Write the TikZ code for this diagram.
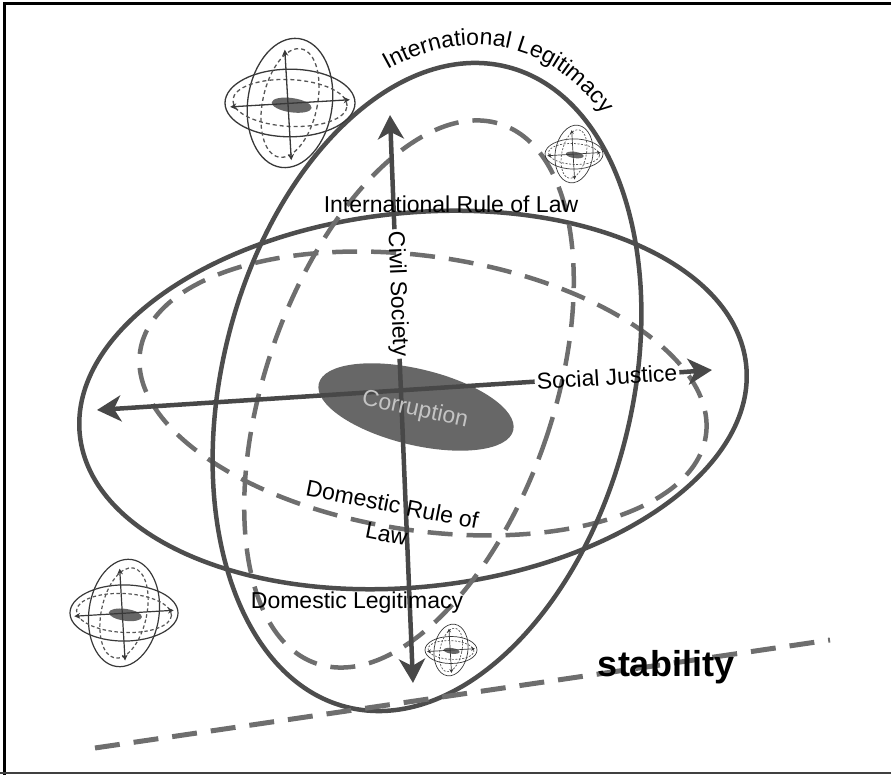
\documentclass[tikz,border=0pt]{standalone}
\usepackage{fontspec}
\setmainfont{Liberation Sans}
\usetikzlibrary{arrows.meta,decorations.text,shapes.geometric}
\definecolor{solidc}{HTML}{4D4D4D}
\definecolor{dashc}{HTML}{6E6E6E}
\definecolor{arrowc}{HTML}{484848}
\definecolor{corrc}{HTML}{676767}
\definecolor{corrt}{HTML}{C4C4C4}
\definecolor{minic}{HTML}{383838}
\definecolor{minid}{HTML}{555555}
\tikzset{
  bigtip/.tip={Stealth[length=24pt,width=26pt,inset=7pt]},
  smalltip/.tip={Stealth[length=1pt 4,width=1pt 4]},
  pics/globe/.style n args={3}{code={
    \begin{scope}[scale=#1, line width=#2]
      \draw[minic] (0,0) ellipse[x radius=1, y radius=0.52];
      \draw[minic, rotate=-8] (0,0) ellipse[x radius=0.65, y radius=1];
      \draw[minid, dash pattern=#3, rotate=-3] (0,0) ellipse[x radius=0.88, y radius=0.36];
      \draw[minid, dash pattern=#3, rotate=-12] (0,0) ellipse[x radius=0.42, y radius=0.85];
      \fill[corrc, rotate=-8] (0.03,-0.03) ellipse[x radius=0.31, y radius=0.11];
      \draw[minic, smalltip-smalltip] (-0.92,-0.06) -- (0.92,0.05);
      \draw[minic, smalltip-smalltip] (-0.08,0.82) -- (0.02,-0.88);
    \end{scope}
  }}
}
\begin{document}
\begin{tikzpicture}[x=1pt,y=1pt,
  solidell/.style={draw=solidc, line width=4.5pt},
  dashell/.style={draw=dashc, line width=4.5pt, dash pattern=on 25pt off 14pt},
  mainarrow/.style={draw=arrowc, line width=4.5pt},
  lbl/.style={font=\fontsize{23}{30}\selectfont, text=black, inner sep=2pt},
]
\useasboundingbox (0,0) rectangle (891,775);
% frame
\draw[line width=3pt] (4,0) -- (4,771.5) -- (891,771.5);
\draw[line width=2pt, black!75] (0,1.5) -- (891,1.5);

% big ellipses
\draw[solidell, rotate around={6:(413,375)}] (413,375) ellipse [x radius=335, y radius=187];
\draw[dashell, rotate around={-8.5:(423,381.5)}] (423,381.5) ellipse [x radius=286, y radius=137];
\draw[solidell, rotate around={-14:(427,388)}] (427,388) ellipse [x radius=205, y radius=330];
\draw[dashell, rotate around={-19:(409,381)}] (409,381) ellipse [x radius=144, y radius=285];

% corruption blob
\node[ellipse, fill=corrc, minimum width=200pt, minimum height=76pt, inner sep=0pt, rotate=-13.5] (corr) at (416,368) {};

% arrows
\coordinate (hl) at (97,365);
\coordinate (hr) at (712,405);
\coordinate (vt) at (390,660);
\coordinate (vb) at (413,92);
\node[lbl, rotate=3.7] (sj) at (607,398) {Social Justice};
\node[lbl, rotate=-87.7] (cs) at (397,481) {Civil Society};
\draw[mainarrow, bigtip-] (hl) -- (sj.west);
\draw[mainarrow, -bigtip] (sj.east) -- (hr);
\draw[mainarrow, bigtip-] (vt) -- (cs.west);
\draw[mainarrow, -bigtip] (cs.east) -- (vb);

% labels
\node[font=\fontsize{23}{30}\selectfont, text=corrt, rotate=-12] (corrtxt) at (415,365) {Corruption};
\node[lbl, anchor=base] (irl) at (451,562) {International Rule of Law};
\node[lbl, anchor=base] (dl) at (357,166) {Domestic Legitimacy};
\node[lbl, rotate=-11, align=center] (drl) at (389.5,256) {Domestic Rule of\\Law};

% curved label
\begin{scope}[shift={(427,388)}, rotate=-14]
\path[decorate, decoration={text along path, text align=left,
  text={|\fontsize{23}{23}\selectfont|International Legitimacy}}]
  (121:223 and 348) arc[start angle=121, end angle=35, x radius=223, y radius=348];
\end{scope}

% mini globes
\pic at (290,672) {globe={65}{1.3pt}{on 4pt off 3pt}};
\pic at (574,621) {globe={29}{0.7pt}{on 2pt off 1.5pt}};
\pic at (124,162) {globe={54}{1.2pt}{on 3.5pt off 2.5pt}};
\pic at (451,125) {globe={26}{0.7pt}{on 2pt off 1.5pt}};

% stability
\coordinate (sl) at (95,27);
\coordinate (sr) at (830,135);
\draw[draw=dashc, line width=5pt, dash pattern=on 25pt off 14pt] (sl) -- (sr);
\node[font=\fontsize{36}{40}\selectfont\bfseries, anchor=base] (stab) at (666,98) {stability};
\end{tikzpicture}
\end{document}
